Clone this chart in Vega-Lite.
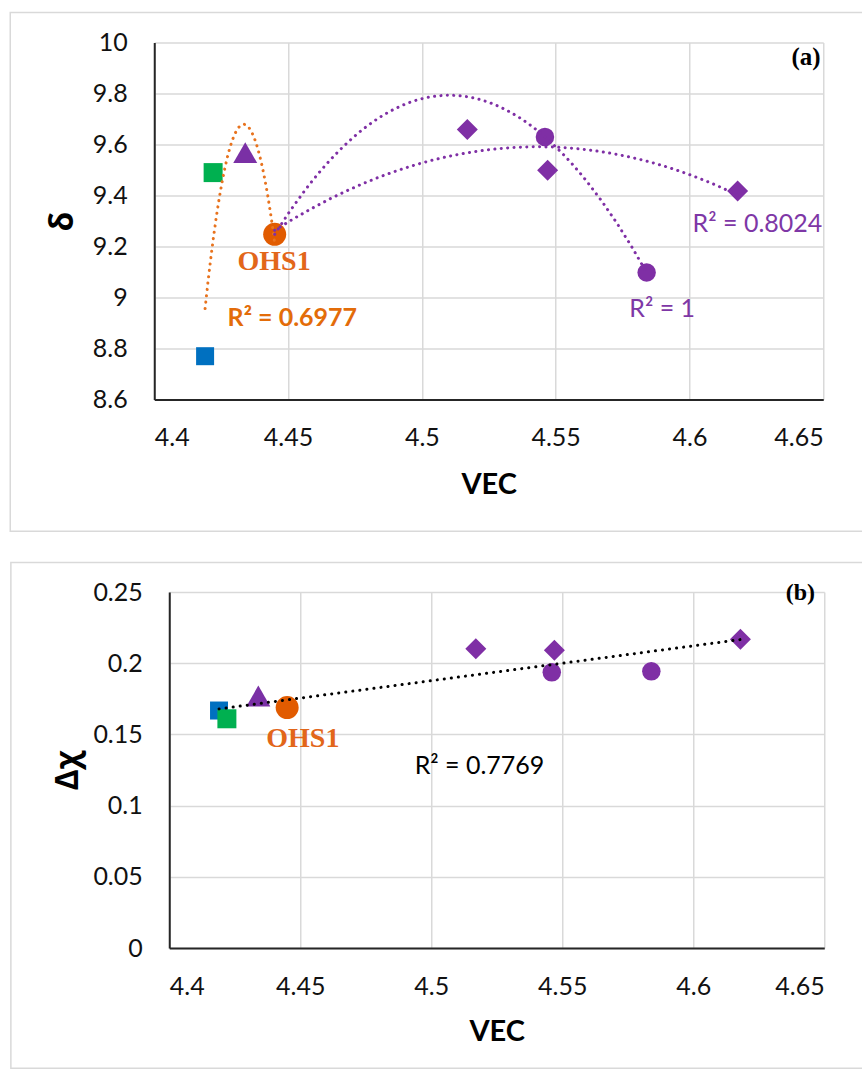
{
  "$schema": "https://vega.github.io/schema/vega-lite/v6.json",
  "background": "white",
  "padding": {"left": 8.25, "top": 11.55, "right": 0, "bottom": 0},
  "spacing": 28.5,
  "config": {
    "view": {"stroke": null},
    "axis": {
      "grid": true,
      "gridColor": "#D9D9D9",
      "gridWidth": 1.5,
      "domainColor": "#262626",
      "domainWidth": 2,
      "ticks": false,
      "labelFont": "Lato",
      "labelFontSize": 25,
      "labelColor": "#111111",
      "titleFont": "Lato",
      "titleFontWeight": "bold",
      "titleColor": "#000000"
    }
  },
  "datasets": {
    "pts": [
      {"grp": "blueSq", "vec": 4.419, "delta": 8.77, "chi": 0.1668},
      {"grp": "greenSq", "vec": 4.422, "delta": 9.49, "chi": 0.161},
      {"grp": "tri", "vec": 4.434, "delta": 9.568, "chi": 0.177},
      {"grp": "ohs1", "vec": 4.445, "delta": 9.248, "chi": 0.1689},
      {"grp": "dia", "vec": 4.517, "delta": 9.659, "chi": 0.2101},
      {"grp": "circ", "vec": 4.546, "delta": 9.63, "chi": 0.1936},
      {"grp": "dia", "vec": 4.547, "delta": 9.499, "chi": 0.2092},
      {"grp": "circ", "vec": 4.584, "delta": 9.098, "chi": 0.1943},
      {"grp": "dia", "vec": 4.618, "delta": 9.418, "chi": 0.2168}
    ],
    "labA": [
      {"kind": "ohs", "t": "OHS1", "vec": 4.4448, "delta": 9.138},
      {"kind": "r2o", "t": "R² = 0.6977", "vec": 4.4516, "delta": 8.919},
      {"kind": "r2p", "t": "R² = 1", "vec": 4.5898, "delta": 8.957},
      {"kind": "r2p", "t": "R² = 0.8024", "vec": 4.6254, "delta": 9.287},
      {"kind": "tag", "t": "(a)", "vec": 4.649, "delta": 9.944}
    ],
    "labB": [
      {"kind": "ohs", "t": "OHS1", "vec": 4.451, "chi": 0.1468},
      {"kind": "r2k", "t": "R² = 0.7769", "vec": 4.5184, "chi": 0.128},
      {"kind": "tag", "t": "(b)", "vec": 4.6465, "chi": 0.2492}
    ]
  },
  "vconcat": [
    {
      "spacing": 0,
      "hconcat": [
        {
          "width": 1,
          "height": 1,
          "data": {"values": []},
          "mark": {"type": "point"},
          "encoding": {}
        },
        {
          "width": 669,
          "height": 357,
          "layer": [
            {
              "data": {"values": [{"frame": "a"}]},
              "mark": {"type": "rect", "fill": null, "stroke": "#D9D9D9", "strokeWidth": 1.5},
              "encoding": {
                "x": {"datum": 4.34619, "type": "quantitative", "title": "VEC"},
                "x2": {"datum": 4.66607},
                "y": {"datum": 10.11765, "type": "quantitative", "title": "δ"},
                "y2": {"datum": 8.0835}
              }
            },
            {
              "data": {"name": "pts"},
              "mark": {"type": "point", "filled": true, "opacity": 1},
              "encoding": {
                "x": {
                  "field": "vec", "type": "quantitative", "title": "VEC",
                  "scale": {"domain": [4.4, 4.65], "zero": false, "nice": false},
                  "axis": {"values": [4.4, 4.45, 4.5, 4.55, 4.6, 4.65], "format": ".2~f", "labelPadding": 26, "titlePadding": 20, "titleFontSize": 29}
                },
                "y": {
                  "field": "delta", "type": "quantitative", "title": "δ",
                  "scale": {"domain": [8.6, 10], "zero": false, "nice": false},
                  "axis": {"values": [8.6, 8.8, 9, 9.2, 9.4, 9.6, 9.8, 10], "format": ".1~f", "labelPadding": 27, "titlePadding": 13, "titleFontSize": 32, "titleFont": "Open Sans"}
                },
                "shape": {
                  "field": "grp", "type": "nominal", "legend": null,
                  "scale": {"domain": ["blueSq", "greenSq", "tri", "ohs1", "dia", "circ"], "range": ["square", "square", "triangle-up", "circle", "diamond", "circle"]}
                },
                "color": {
                  "field": "grp", "type": "nominal", "legend": null,
                  "scale": {"domain": ["blueSq", "greenSq", "tri", "ohs1", "dia", "circ"], "range": ["#0070C0", "#00B050", "#7A30A5", "#E15B00", "#7F2FA5", "#7F2FA5"]}
                },
                "size": {
                  "field": "grp", "type": "nominal", "legend": null,
                  "scale": {"type": "ordinal", "domain": ["blueSq", "greenSq", "tri", "ohs1", "dia", "circ"], "range": [324, 361, 576, 529, 441, 342]}
                }
              }
            },
            {
              "data": {"name": "pts"},
              "transform": [
                {"filter": {"field": "grp", "oneOf": ["blueSq", "greenSq", "tri", "ohs1"]}},
                {"regression": "delta", "on": "vec", "method": "poly", "order": 2}
              ],
              "mark": {"type": "line", "color": "#E8731E", "strokeWidth": 3, "strokeDash": [0.1, 6.3], "strokeCap": "round"},
              "encoding": {
                "x": {"field": "vec", "type": "quantitative", "title": "VEC"},
                "y": {"field": "delta", "type": "quantitative", "title": "δ"}
              }
            },
            {
              "data": {"name": "pts"},
              "transform": [
                {"filter": {"field": "grp", "oneOf": ["ohs1", "circ"]}},
                {"regression": "delta", "on": "vec", "method": "poly", "order": 2}
              ],
              "mark": {"type": "line", "color": "#7F2FA5", "strokeWidth": 3, "strokeDash": [0.1, 6.3], "strokeCap": "round"},
              "encoding": {
                "x": {"field": "vec", "type": "quantitative", "title": "VEC"},
                "y": {"field": "delta", "type": "quantitative", "title": "δ"}
              }
            },
            {
              "data": {"name": "pts"},
              "transform": [
                {"filter": {"field": "grp", "oneOf": ["ohs1", "dia"]}},
                {"regression": "delta", "on": "vec", "method": "poly", "order": 2}
              ],
              "mark": {"type": "line", "color": "#7F2FA5", "strokeWidth": 3, "strokeDash": [0.1, 6.3], "strokeCap": "round"},
              "encoding": {
                "x": {"field": "vec", "type": "quantitative", "title": "VEC"},
                "y": {"field": "delta", "type": "quantitative", "title": "δ"}
              }
            },
            {
              "data": {"name": "labA"},
              "transform": [{"filter": "datum.kind == 'ohs'"}],
              "mark": {"type": "text", "font": "Liberation Serif", "fontWeight": "bold", "fontSize": 28, "color": "#E2661A", "align": "center", "baseline": "middle"},
              "encoding": {
                "x": {"field": "vec", "type": "quantitative", "title": "VEC"},
                "y": {"field": "delta", "type": "quantitative", "title": "δ"},
                "text": {"field": "t"}
              }
            },
            {
              "data": {"name": "labA"},
              "transform": [{"filter": "datum.kind == 'r2o'"}],
              "mark": {"type": "text", "font": "Lato", "fontWeight": "bold", "fontSize": 25, "color": "#E36C09", "align": "center", "baseline": "middle"},
              "encoding": {
                "x": {"field": "vec", "type": "quantitative", "title": "VEC"},
                "y": {"field": "delta", "type": "quantitative", "title": "δ"},
                "text": {"field": "t"}
              }
            },
            {
              "data": {"name": "labA"},
              "transform": [{"filter": "datum.kind == 'r2p'"}],
              "mark": {"type": "text", "font": "Lato", "fontSize": 25, "color": "#7E37A6", "align": "center", "baseline": "middle"},
              "encoding": {
                "x": {"field": "vec", "type": "quantitative", "title": "VEC"},
                "y": {"field": "delta", "type": "quantitative", "title": "δ"},
                "text": {"field": "t"}
              }
            },
            {
              "data": {"name": "labA"},
              "transform": [{"filter": "datum.kind == 'tag'"}],
              "mark": {"type": "text", "font": "Liberation Serif", "fontWeight": "bold", "fontSize": 25, "color": "#000000", "align": "right", "baseline": "middle"},
              "encoding": {
                "x": {"field": "vec", "type": "quantitative", "title": "VEC"},
                "y": {"field": "delta", "type": "quantitative", "title": "δ"},
                "text": {"field": "t"}
              }
            }
          ]
        }
      ]
    },
    {
      "spacing": 0,
      "hconcat": [
        {
          "width": 1,
          "height": 1,
          "data": {"values": []},
          "mark": {"type": "point"},
          "encoding": {}
        },
        {
          "width": 655,
          "height": 356,
          "layer": [
            {
              "data": {"values": [{"frame": "b"}]},
              "mark": {"type": "rect", "fill": null, "stroke": "#D9D9D9", "strokeWidth": 1.5},
              "encoding": {
                "x": {"datum": 4.33955, "type": "quantitative", "title": "VEC"},
                "x2": {"datum": 4.66642},
                "y": {"datum": 0.2707, "type": "quantitative", "title": "Δχ"},
                "y2": {"datum": -0.08443}
              }
            },
            {
              "data": {"name": "pts"},
              "mark": {"type": "point", "filled": true, "opacity": 1},
              "encoding": {
                "x": {
                  "field": "vec", "type": "quantitative", "title": "VEC",
                  "scale": {"domain": [4.4, 4.65], "zero": false, "nice": false},
                  "axis": {"values": [4.4, 4.45, 4.5, 4.55, 4.6, 4.65], "format": ".2~f", "labelPadding": 26, "titlePadding": 18, "titleFontSize": 29}
                },
                "y": {
                  "field": "chi", "type": "quantitative", "title": "Δχ",
                  "scale": {"domain": [0, 0.25], "zero": false, "nice": false},
                  "axis": {"values": [0, 0.05, 0.1, 0.15, 0.2, 0.25], "format": ".2~f", "labelPadding": 27, "titlePadding": 8, "titleFontSize": 32, "titleFont": "Open Sans"}
                },
                "shape": {
                  "field": "grp", "type": "nominal", "legend": null,
                  "scale": {"domain": ["blueSq", "greenSq", "tri", "ohs1", "dia", "circ"], "range": ["square", "square", "triangle-up", "circle", "diamond", "circle"]}
                },
                "color": {
                  "field": "grp", "type": "nominal", "legend": null,
                  "scale": {"domain": ["blueSq", "greenSq", "tri", "ohs1", "dia", "circ"], "range": ["#1F9AD6", "#3FAA3F", "#7A30A5", "#E15B00", "#7F2FA5", "#7F2FA5"]}
                },
                "size": {
                  "field": "grp", "type": "nominal", "legend": null,
                  "scale": {"type": "ordinal", "domain": ["blueSq", "greenSq", "tri", "ohs1", "dia", "circ"], "range": [335, 350, 500, 515, 529, 361]}
                }
              }
            },
            {
              "data": {"name": "pts"},
              "transform": [
                {"regression": "chi", "on": "vec", "method": "linear"}
              ],
              "mark": {"type": "line", "color": "#000000", "strokeWidth": 3, "strokeDash": [0.1, 7], "strokeCap": "round"},
              "encoding": {
                "x": {"field": "vec", "type": "quantitative", "title": "VEC"},
                "y": {"field": "chi", "type": "quantitative", "title": "Δχ"}
              }
            },
            {
              "data": {"name": "labB"},
              "transform": [{"filter": "datum.kind == 'ohs'"}],
              "mark": {"type": "text", "font": "Liberation Serif", "fontWeight": "bold", "fontSize": 28, "color": "#E2661A", "align": "center", "baseline": "middle"},
              "encoding": {
                "x": {"field": "vec", "type": "quantitative", "title": "VEC"},
                "y": {"field": "chi", "type": "quantitative", "title": "Δχ"},
                "text": {"field": "t"}
              }
            },
            {
              "data": {"name": "labB"},
              "transform": [{"filter": "datum.kind == 'r2k'"}],
              "mark": {"type": "text", "font": "Lato", "fontSize": 25, "color": "#000000", "align": "center", "baseline": "middle"},
              "encoding": {
                "x": {"field": "vec", "type": "quantitative", "title": "VEC"},
                "y": {"field": "chi", "type": "quantitative", "title": "Δχ"},
                "text": {"field": "t"}
              }
            },
            {
              "data": {"name": "labB"},
              "transform": [{"filter": "datum.kind == 'tag'"}],
              "mark": {"type": "text", "font": "Liberation Serif", "fontWeight": "bold", "fontSize": 24, "color": "#000000", "align": "right", "baseline": "middle"},
              "encoding": {
                "x": {"field": "vec", "type": "quantitative", "title": "VEC"},
                "y": {"field": "chi", "type": "quantitative", "title": "Δχ"},
                "text": {"field": "t"}
              }
            }
          ]
        }
      ]
    }
  ]
}
